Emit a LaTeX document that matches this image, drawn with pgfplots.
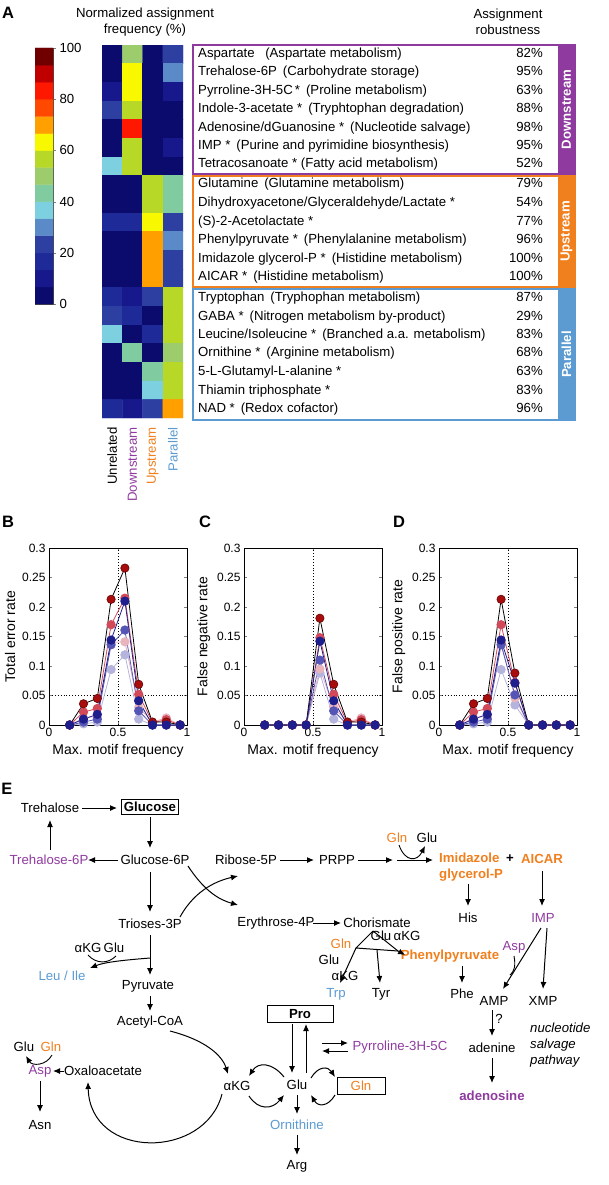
\documentclass[border=0pt]{standalone}
\usepackage{fontspec}
\setmainfont{Liberation Sans}
\usepackage{pgfplots}
\pgfplotsset{compat=1.18}
\usepackage{pgfplotstable}
\usetikzlibrary{arrows.meta}

\definecolor{cDown}{HTML}{8E3A9E}
\definecolor{cUp}{HTML}{F07F1E}
\definecolor{cPar}{HTML}{5B9BD2}
\definecolor{cS1}{HTML}{A80C0C}
\definecolor{cS2}{HTML}{D24A5A}
\definecolor{cS3}{HTML}{E8B4BE}
\definecolor{cS4}{HTML}{1E1E8C}
\definecolor{cS5}{HTML}{5555B5}
\definecolor{cS6}{HTML}{B4B4DC}

\newcommand{\fa}{\fontsize{13.2}{16}\selectfont}
\newcommand{\fb}{\fontsize{12}{14}\selectfont}
\newcommand{\fc}{\fontsize{14}{16.5}\selectfont}
\newcommand{\fl}{\fontsize{16.5}{19}\selectfont\bfseries}

% heatmap: column (0 unrelated,1 downstream,2 upstream,3 parallel), row, value in %
\pgfplotstableread{
c r v
0 0 2
1 0 50
2 0 2
3 0 23
0 1 2
1 1 63
2 1 2
3 1 30
0 2 10
1 2 63
2 2 2
3 2 10
0 3 23
1 3 57
2 3 2
3 3 2
0 4 2
1 4 83
2 4 2
3 4 2
0 5 2
1 5 57
2 5 2
3 5 10
0 6 37
1 6 57
2 6 2
3 6 2
0 7 2
1 7 2
2 7 57
3 7 43
0 8 2
1 8 2
2 8 57
3 8 43
0 9 17
1 9 17
2 9 63
3 9 23
0 10 2
1 10 2
2 10 70
3 10 30
0 11 2
1 11 2
2 11 70
3 11 23
0 12 2
1 12 2
2 12 70
3 12 23
0 13 17
1 13 10
2 13 23
3 13 57
0 14 23
1 14 17
2 14 2
3 14 57
0 15 37
1 15 2
2 15 17
3 15 57
0 16 2
1 16 43
2 16 2
3 16 50
0 17 2
1 17 2
2 17 43
3 17 57
0 18 2
1 18 2
2 18 37
3 18 57
0 19 17
1 19 10
2 19 23
3 19 70
}\heat

\pgfplotstableread{
x y k
0 3.333 0
1 3.333 0
0 10 1
1 10 1
0 16.667 2
1 16.667 2
0 23.333 3
1 23.333 3
0 30 4
1 30 4
0 36.667 5
1 36.667 5
0 43.333 6
1 43.333 6
0 50 7
1 50 7
0 56.667 8
1 56.667 8
0 63.333 9
1 63.333 9
0 70 10
1 70 10
0 76.667 11
1 76.667 11
0 83.333 12
1 83.333 12
0 90 13
1 90 13
0 96.667 14
1 96.667 14
}\cbar

\pgfplotstableread{
x s1 s2 s3 s4 s5 s6
0.15 0 0 0 0 0 0
0.25 0.036 0.022 0.012 0.010 0.005 0.002
0.35 0.045 0.028 0.015 0.018 0.010 0.005
0.45 0.213 0.170 0.140 0.144 0.136 0.094
0.55 0.266 0.215 0.141 0.210 0.161 0.119
0.65 0.069 0.052 0.030 0.041 0.024 0.010
0.75 0.005 0.004 0.005 0 0 0
0.85 0.005 0.009 0.012 0 0 0
0.95 0 0 0 0 0 0
}\tabB

\pgfplotstableread{
x s1 s2 s3 s4 s5 s6
0.15 0 0 0 0 0 0
0.25 0 0 0 0 0 0
0.35 0 0 0 0 0 0
0.45 0 0 0 0 0 0
0.55 0.181 0.148 0.095 0.142 0.110 0.088
0.65 0.069 0.052 0.030 0.041 0.024 0.010
0.75 0.005 0.004 0.005 0 0 0
0.85 0.005 0.009 0.012 0 0 0
0.95 0 0 0 0 0 0
}\tabC

\pgfplotstableread{
x s1 s2 s3 s4 s5 s6
0.15 0 0 0 0 0 0
0.25 0.036 0.022 0.012 0.010 0.005 0.002
0.35 0.045 0.028 0.015 0.018 0.010 0.005
0.45 0.213 0.170 0.140 0.144 0.136 0.094
0.55 0.088 0.072 0.046 0.071 0.051 0.034
0.65 0 0 0 0 0 0
0.75 0 0 0 0 0 0
0.85 0 0 0 0 0 0
0.95 0 0 0 0 0 0
}\tabD

\pgfplotsset{
  jetq/.style={colormap={jetq}{rgb255=(11,11,110) rgb255=(22,24,140) rgb255=(30,42,152)
    rgb255=(45,63,160) rgb255=(91,138,200) rgb255=(125,208,224) rgb255=(128,204,160)
    rgb255=(156,204,108) rgb255=(184,216,40) rgb255=(248,248,0) rgb255=(255,160,0)
    rgb255=(255,72,0) rgb255=(255,24,0) rgb255=(192,0,0) rgb255=(112,0,0)},
    colormap access=direct},
  panel/.style={scale only axis, width=138pt, height=177pt, anchor=south west,
    xmin=0, xmax=1, ymin=0, ymax=0.3, xtick={0,0.5,1},
    ytick={0,0.05,0.1,0.15,0.2,0.25,0.3}, scaled y ticks=false,
    yticklabel style={/pgf/number format/fixed, /pgf/number format/precision=2},
    /pgf/number format/assume math mode=true,
    tick label style={font=\fb}, label style={font=\fc},
    tick align=inside, major tick length=3pt, axis line style={line width=0.9pt},
    xlabel={Max. motif frequency}, clip=false},
  ser1/.style={black, line width=0.8pt, mark=*, mark size=4.2pt, mark options={fill=cS1, draw=cS1!60!black, line width=0.6pt}},
  ser2/.style={cS2, line width=0.8pt, mark=*, mark size=4.2pt, mark options={fill=cS2, draw=cS2}},
  ser3/.style={cS3, line width=0.8pt, mark=*, mark size=4.2pt, mark options={fill=cS3, draw=cS3}},
  ser4/.style={cS4, line width=0.8pt, mark=*, mark size=4.2pt, mark options={fill=cS4, draw=cS4}},
  ser5/.style={cS5, line width=0.8pt, mark=*, mark size=4.2pt, mark options={fill=cS5, draw=cS5}},
  ser6/.style={cS6, line width=0.8pt, mark=*, mark size=4.2pt, mark options={fill=cS6, draw=cS6}},
}

\newcommand{\allseries}[1]{%
  \addplot[black, dotted, line width=0.9pt] coordinates {(0.5,0) (0.5,0.3)};
  \addplot[black, dotted, line width=0.9pt] coordinates {(0,0.05) (1,0.05)};
  \addplot[ser6] table[x=x, y=s6] {#1};
  \addplot[ser3] table[x=x, y=s3] {#1};
  \addplot[ser5] table[x=x, y=s5] {#1};
  \addplot[ser2] table[x=x, y=s2] {#1};
  \addplot[ser1] table[x=x, y=s1] {#1};
  \addplot[ser4] table[x=x, y=s4] {#1};
}

\begin{document}
\begin{tikzpicture}[x=1pt, y=1pt,
  t/.style={font=\fa, inner sep=0pt},
  ar/.style={-{Latex[length=7pt,width=6pt]}, line width=1pt}]
\useasboundingbox (0,0) rectangle (609,-1185);

% ---------------- A ----------------
\node[font=\fl] at (8,-12.5) {A};
\node[t, align=center] at (145,-22) {Normalized assignment\\frequency (\%)};
\node[t, align=center] at (508,-22) {Assignment\\robustness};

\begin{axis}[jetq, at={(35pt,-304pt)}, anchor=south west, scale only axis,
  width=18pt, height=256pt, xmin=-0.5, xmax=1.5, ymin=0, ymax=100,
  xtick=\empty, ytick={0,20,40,60,80,100}, ytick pos=right, yticklabel pos=right,
  tick align=outside, major tick length=3pt,
  tick label style={font=\fa}, /pgf/number format/assume math mode=true,
  axis line style={line width=0.6pt, black!70}]
  \addplot[matrix plot*, mesh/cols=2, point meta=\thisrow{k}] table[x=x, y=y] {\cbar};
\end{axis}

\begin{axis}[jetq, at={(102pt,-418pt)}, anchor=south west, scale only axis,
  width=81pt, height=373pt, xmin=-0.5, xmax=3.5, ymin=-19.5, ymax=0.5,
  axis line style={draw=none}, major tick length=0pt, ytick=\empty,
  xtick={0,1,2,3},
  xticklabels={Unrelated, \textcolor{cDown}{Downstream}, \textcolor{cUp}{Upstream}, \textcolor{cPar}{Parallel}},
  xticklabel style={rotate=90, anchor=east, font=\fa},
  xticklabel shift=6pt]
  \addplot[matrix plot*, mesh/cols=4, point meta={floor(\thisrow{v}*0.15)}]
    table[x=c, y expr=-\thisrow{r}] {\heat};
\end{axis}

% group boxes
\draw[cDown, line width=1.2pt] (193,-45) rectangle (575,-174);
\fill[cDown] (558,-45) rectangle (575,-174);
\draw[cUp, line width=1.2pt] (193,-176) rectangle (575,-287);
\fill[cUp] (558,-176) rectangle (575,-287);
\draw[cPar, line width=1.2pt] (193,-289) rectangle (575,-420);
\fill[cPar] (558,-289) rectangle (575,-420);
\node[t, rotate=90, text=white, font=\fa\bfseries] at (566.5,-109.5) {Downstream};
\node[t, rotate=90, text=white, font=\fa\bfseries] at (566.5,-231.5) {Upstream};
\node[t, rotate=90, text=white, font=\fa\bfseries] at (566.5,-354.5) {Parallel};

\def\sp{\hspace{0.45em}}
\foreach \yy/\txt/\pc in {
  55/{Aspartate\hspace{0.8em}(Aspartate metabolism)}/82,
  73.3/{Trehalose-6P\sp(Carbohydrate storage)}/95,
  91.7/{Pyrroline-3H-5C\,*\sp(Proline metabolism)}/63,
  110.3/{Indole-3-acetate *\sp(Tryphtophan degradation)}/88,
  129/{Adenosine/dGuanosine *\sp(Nucleotide salvage)}/98,
  147/{IMP *\sp(Purine and pyrimidine biosynthesis)}/95,
  165.3/{Tetracosanoate * (Fatty acid metabolism)}/52,
  185.3/{Glutamine\sp(Glutamine metabolism)}/79,
  204/{Dihydroxyacetone/Glyceraldehyde/Lactate *}/54,
  222.7/{(S)-2-Acetolactate *}/77,
  241/{Phenylpyruvate *\sp(Phenylalanine metabolism)}/96,
  260/{Imidazole glycerol-P *\sp(Histidine metabolism)}/100,
  278.3/{AICAR *\sp(Histidine metabolism)}/100,
  299.3/{Tryptophan\sp(Tryphophan metabolism)}/87,
  317.7/{GABA *\sp(Nitrogen metabolism by-product)}/29,
  336/{Leucine/Isoleucine *\sp(Branched a.a. metabolism)}/83,
  354.3/{Ornithine *\sp(Arginine metabolism)}/68,
  373.3/{5-L-Glutamyl-L-alanine *}/63,
  391.7/{Thiamin triphosphate *}/83,
  410/{NAD *\sp(Redox cofactor)}/96}{
  \node[t, anchor=mid west] at (198,-\yy) {\txt};
  \node[t, anchor=mid east] at (543,-\yy) {\pc\%};
}

% ---------------- B C D ----------------
\node[font=\fl] at (8,-522) {B};
\node[font=\fl] at (205,-522) {C};
\node[font=\fl] at (399,-522) {D};

\begin{axis}[panel, at={(49pt,-725pt)}, ylabel={Total error rate}]
  \allseries{\tabB}
\end{axis}
\begin{axis}[panel, at={(244pt,-725pt)}, ylabel={False negative rate}]
  \allseries{\tabC}
\end{axis}
\begin{axis}[panel, at={(439pt,-725pt)}, ylabel={False positive rate}]
  \allseries{\tabD}
\end{axis}

% ---------------- E ----------------
\node[font=\fl] at (7,-789) {E};
\node[t] at (50,-808) {Trehalose};
\node[t, draw, line width=1pt, inner sep=2.5pt, font=\fa\bfseries] at (150,-807) {Glucose};
\node[t] at (155,-860) {Glucose-6P};
\node[t, text=cDown] at (49,-860) {Trehalose-6P};
\node[t] at (246,-860) {Ribose-5P};
\node[t] at (337,-860) {PRPP};
\node[t, text=cUp] at (397,-838) {Gln};
\node[t] at (427,-838) {Glu};
\node[t, text=cUp, font=\fa\bfseries, align=left, anchor=west] at (439,-867) {Imidazole\\glycerol-P};
\node[t, font=\fa\bfseries] at (510,-859) {+};
\node[t, text=cUp, font=\fa\bfseries] at (542,-859) {AICAR};
\node[t] at (468,-918) {His};
\node[t, text=cDown] at (543,-918) {IMP};
\node[t] at (150,-924) {Trioses-3P};
\node[t] at (276,-923) {Erythrose-4P};
\node[t] at (377,-923) {Chorismate};
\node[t, text=cUp] at (341,-944) {Gln};
\node[t] at (381,-936) {Glu};
\node[t] at (407,-936) {αKG};
\node[t] at (329,-960) {Glu};
\node[t] at (345,-976) {αKG};
\node[t, text=cUp, font=\fa\bfseries] at (450,-956) {Phenylpyruvate};
\node[t, text=cPar] at (336,-994) {Trp};
\node[t] at (381,-994) {Tyr};
\node[t] at (462,-994) {Phe};
\node[t] at (88,-948) {αKG};
\node[t] at (114,-948) {Glu};
\node[t, text=cPar] at (62,-976) {Leu / Ile};
\node[t] at (148,-986) {Pyruvate};
\node[t] at (150,-1022) {Acetyl-CoA};
\node[t, text=cDown] at (514,-947) {Asp};
\node[t] at (494,-1001) {AMP};
\node[t] at (543,-1001) {XMP};
\node[t] at (499,-1019) {?};
\node[t] at (492,-1048) {adenine};
\node[t, text=cDown, font=\fa\bfseries] at (492,-1096) {adenosine};
\node[t, font=\fa\itshape, align=left, anchor=west] at (530,-1045) {nucleotide\\salvage\\pathway};
\node[t, draw, line width=1pt, inner sep=2.5pt, font=\fa\bfseries, minimum width=66pt, minimum height=17pt] at (300,-1014) {Pro};
\node[t, text=cDown] at (400,-1047) {Pyrroline-3H-5C};
\node[t] at (297,-1085) {Glu};
\node[t] at (237,-1086) {αKG};
\node[t, draw, line width=0.8pt, text=cUp, minimum width=48pt, minimum height=17pt] at (361,-1086) {Gln};
\node[t, text=cPar] at (297,-1125) {Ornithine};
\node[t] at (297,-1166) {Arg};
\node[t] at (24,-1047) {Glu};
\node[t, text=cUp] at (51,-1047) {Gln};
\node[t, text=cDown] at (40,-1071) {Asp};
\node[t] at (103,-1071) {Oxaloacetate};
\node[t] at (40,-1125) {Asn};

\draw[ar] (82,-808) -- (117,-808);
\draw[ar] (150,-817) -- (150,-848);
\draw[ar] (118,-860) -- (88,-860);
\draw[ar] (50,-850) -- (50,-820);
\draw[ar] (150,-872) -- (150,-912);
\draw[ar] (280,-860) -- (314,-860);
\draw[ar] (358,-860) -- (393,-860);
\draw[ar] (397,-860) -- (433,-860);
\draw[ar, line width=0.9pt] (399,-845) .. controls (405,-862) and (417,-862) .. (425,-846);
\draw[ar] (188,-866) .. controls (205,-892) and (220,-900) .. (238,-905);
\draw[ar] (180,-917) .. controls (196,-888) and (220,-880) .. (238,-876);
\draw[ar] (313,-923) -- (341,-923);
\draw[ar] (468,-884) -- (468,-906);
\draw[ar] (542,-871) -- (542,-906);
\draw[ar] (150,-935) -- (150,-975);
\draw[ar] (150,-958) .. controls (125,-960) and (105,-962) .. (90,-968);
\draw[line width=0.9pt] (88,-955) .. controls (96,-964) and (108,-964) .. (116,-956);
\draw[ar] (150,-996) -- (150,-1011);
\draw[ar] (170,-1031) .. controls (205,-1040) and (222,-1055) .. (228,-1074);
\draw[ar] (222,-1094) .. controls (205,-1160) and (90,-1160) .. (88,-1082);
\draw[ar] (64,-1071) -- (53,-1071);
\draw[ar, line width=0.9pt] (52,-1055) .. controls (46,-1066) and (32,-1066) .. (26,-1056);
\draw[ar] (40,-1081) -- (40,-1112);
\draw[ar] (292,-1024) -- (292,-1073);
\draw[ar] (306,-1073) -- (306,-1024);
\draw[ar] (322,-1043) -- (348,-1043);
\draw[ar] (348,-1051) -- (322,-1051);
\draw[ar] (284,-1077) .. controls (272,-1062) and (258,-1062) .. (249,-1076);
\draw[ar] (249,-1096) .. controls (258,-1110) and (272,-1110) .. (284,-1095);
\draw[ar] (311,-1078) .. controls (318,-1066) and (328,-1066) .. (335,-1077);
\draw[ar] (335,-1095) .. controls (328,-1107) and (318,-1107) .. (311,-1095);
\draw[ar] (297,-1095) -- (297,-1114);
\draw[ar] (297,-1135) -- (297,-1155);
\draw[line width=1pt] (373,-931) -- (356,-948) -- (398,-951);
\draw[ar] (356,-948) -- (340,-983);
\draw[ar] (373,-931) -- (398,-951) -- (405,-955);
\draw[ar] (377,-950) -- (380,-983);
\draw[ar] (462,-966) -- (462,-983);
\draw[ar] (541,-928) -- (503,-989);
\draw[ar] (547,-928) -- (543,-989);
\draw[line width=0.9pt] (514,-956) .. controls (516,-966) and (514,-972) .. (510,-975);
\draw[ar] (492,-1010) -- (492,-1036);
\draw[ar] (492,-1058) -- (492,-1083);
\end{tikzpicture}
\end{document}
